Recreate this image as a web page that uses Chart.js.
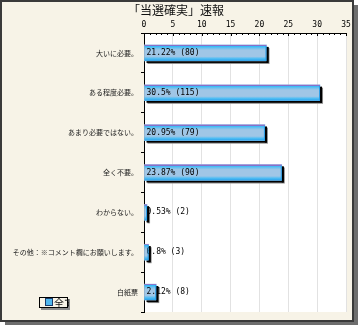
<!DOCTYPE html>
<html>
<head>
<meta charset="utf-8">
<script src="https://cdn.jsdelivr.net/npm/chart.js@4/dist/chart.umd.min.js"></script>
<style>
html,body{margin:0;padding:0;background:#fff;}
#wrap{width:358px;height:325px;position:relative;}
</style>
</head>
<body>
<div id="wrap"><canvas id="canvas1"></canvas></div>
<script>
// 回答項目
var answers = ["大いに必要。", "ある程度必要。", "あまり必要ではない。", "全く不要。",
	"わからない。", "その他：※コメント欄にお願いします。", "白紙票"];
// 割合(%)
var rates = [21.22, 30.5, 20.95, 23.87, 0.53, 0.8, 2.12];
// 票数
var counts = [80, 115, 79, 90, 2, 3, 8];
var titleText = "「当選確実」速報";
var legendText = "全て";
var xMin = 0, xMax = 35, xStep = 5;

var jp = '"Noto Sans CJK JP", sans-serif';
var mono = '"DejaVu Sans Mono", monospace';

/**
 * 枠・背景・タイトル・凡例
 */
var framePlugin = {
	id: 'frame',
	beforeDraw: function(chart){
		var ctx = chart.ctx, a = chart.chartArea;
		ctx.save();
		ctx.fillStyle = "#ffffff";
		ctx.fillRect(0, 0, 358, 325);
		ctx.fillStyle = "#6e6e6e";
		ctx.fillRect(5, 5, 353, 320);
		ctx.fillStyle = "#f7f3e7";
		ctx.fillRect(0, 0, 353, 321);
		ctx.strokeStyle = "#3a3a3a";
		ctx.lineWidth = 2;
		ctx.strokeRect(1, 1, 352, 320);
		ctx.fillStyle = "#ffffff";
		ctx.fillRect(a.left, a.top, a.right - a.left, a.bottom - a.top);
		// タイトル
		ctx.fillStyle = "#111";
		ctx.font = "12px " + jp;
		ctx.textAlign = "center";
		ctx.textBaseline = "middle";
		ctx.fillText(titleText, 176, 10);
		ctx.restore();
	},
	afterDraw: function(chart){
		var ctx = chart.ctx, xs = chart.scales.x;
		ctx.save();
		// 目盛り(小)
		ctx.strokeStyle = "#000";
		ctx.lineWidth = 1;
		for (var v = xMin; v <= xMax; v++) {
			var px = Math.round(xs.getPixelForValue(v)) + 0.5;
			ctx.beginPath();
			ctx.moveTo(px, xs.bottom);
			ctx.lineTo(px, xs.bottom + (v % xStep == 0 ? 3 : 2));
			ctx.stroke();
		}
		// 凡例
		ctx.fillStyle = "#8c8c8c";
		ctx.fillRect(41, 299, 29, 11);
		ctx.fillStyle = "#f7f3e7";
		ctx.fillRect(39, 297, 29, 11);
		ctx.strokeStyle = "#000";
		ctx.strokeRect(39.5, 297.5, 28, 10);
		ctx.fillStyle = "#4fb6ee";
		ctx.fillRect(46, 299, 6, 6);
		ctx.strokeStyle = "#1a3a6a";
		ctx.strokeRect(45.5, 298.5, 7, 7);
		ctx.beginPath();
		ctx.rect(53, 295, 16, 15);
		ctx.clip();
		ctx.fillStyle = "#111";
		ctx.font = "10px " + jp;
		ctx.textAlign = "left";
		ctx.textBaseline = "middle";
		ctx.fillText(legendText, 54, 303);
		ctx.restore();
	}
};

/**
 * 棒の影・グラデーション・値ラベル
 */
var barPlugin = {
	id: 'barStyle',
	beforeDatasetsDraw: function(chart){
		var ctx = chart.ctx;
		var bars = chart.getDatasetMeta(0).data;
		ctx.save();
		for (var i = 0; i < bars.length; i++) {
			var b = bars[i].getProps(['x', 'y', 'base', 'height'], true);
			var top = b.y - b.height / 2;
			ctx.fillStyle = "#8a8a8a";
			ctx.fillRect(b.base + 3, top + 3, b.x - b.base, b.height);
			ctx.fillStyle = "#000";
			ctx.fillRect(b.base + 2, top + 2, b.x - b.base, b.height);
		}
		ctx.restore();
	},
	afterDatasetsDraw: function(chart){
		var ctx = chart.ctx;
		var bars = chart.getDatasetMeta(0).data;
		ctx.save();
		for (var i = 0; i < bars.length; i++) {
			var b = bars[i].getProps(['x', 'y', 'base', 'height'], true);
			var top = b.y - b.height / 2;
			var g = ctx.createLinearGradient(0, top, 0, top + b.height);
			g.addColorStop(0, "#8a6fc8");
			g.addColorStop(0.07, "#8a6fc8");
			g.addColorStop(0.08, "#2fb8f8");
			g.addColorStop(0.2, "#6ec0ee");
			g.addColorStop(0.32, "#a0c6e6");
			g.addColorStop(0.72, "#a0c6e6");
			g.addColorStop(0.86, "#4cbcf4");
			g.addColorStop(1, "#2a9ee8");
			ctx.fillStyle = g;
			ctx.fillRect(b.base, top, b.x - b.base, b.height);
		}
		// 値ラベル
		ctx.fillStyle = "#000";
		ctx.font = "8px " + mono;
		ctx.textAlign = "left";
		ctx.textBaseline = "middle";
		for (var i = 0; i < bars.length; i++) {
			var b = bars[i].getProps(['x', 'y', 'base', 'height'], true);
			ctx.fillText(rates[i] + "% (" + counts[i] + ")", b.base + 2, b.y);
		}
		// 棒の右端(文字に重なる)
		for (var i = 0; i < bars.length; i++) {
			var b = bars[i].getProps(['x', 'y', 'base', 'height'], true);
			var top = b.y - b.height / 2;
			ctx.fillStyle = "#000";
			ctx.fillRect(b.x, top + 2, 2, b.height);
			ctx.fillStyle = "#2a9ee8";
			ctx.fillRect(b.x - 1, top + 1, 1, b.height - 1);
		}
		ctx.restore();
	}
};

var config = {
	type: 'bar',
	data: {
		labels: answers,
		datasets: [{
			label: legendText,
			data: rates,
			backgroundColor: "#a0c6e6",
			borderWidth: 0,
			barThickness: 16
		}]
	},
	options: {
		indexAxis: 'y',
		responsive: true,
		maintainAspectRatio: false,
		animation: false,
		devicePixelRatio: 1,
		layout: { padding: { left: 0, right: 12, top: 0, bottom: 13 } },
		plugins: {
			legend: { display: false },
			title: { display: false },
			tooltip: { enabled: false }
		},
		scales: {
			x: {
				position: 'top',
				min: xMin,
				max: xMax,
				afterFit: function(scale){ scale.height = 33; },
				ticks: {
					stepSize: xStep,
					padding: 3,
					color: "#000",
					font: { family: mono, size: 8 }
				},
				grid: { color: "#e2e2e2", drawTicks: false },
				border: { display: true, color: "#000" }
			},
			y: {
				afterFit: function(scale){ scale.width = 144; },
				ticks: {
					padding: 3,
					color: "#222",
					font: { family: jp, size: 7 }
				},
				grid: { drawOnChartArea: false, drawTicks: true, tickLength: 3, color: "#000" },
				border: { display: true, color: "#000" }
			}
		}
	},
	plugins: [framePlugin, barPlugin]
};

var ctx1 = document.getElementById("canvas1").getContext("2d");
window.myBar = new Chart(ctx1, config);
</script>
</body>
</html>
